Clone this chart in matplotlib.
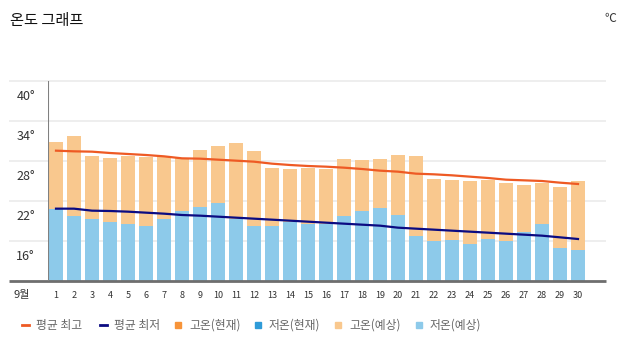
import matplotlib.pyplot as plt
import matplotlib.transforms as mtransforms

plt.rcParams['font.family'] = ['Noto Sans CJK KR', 'DejaVu Sans']

days = list(range(1, 31))
high_fcst = [30.85, 31.75, 28.75, 28.5, 28.75, 28.55, 28.75, 28.4, 29.7, 30.25,
             30.75, 29.55, 27.0, 26.85, 26.95, 26.85, 28.3, 28.15, 28.3, 28.9,
             28.75, 25.3, 25.2, 25.05, 25.15, 24.75, 24.45, 24.75, 24.15, 25.05]
low_fcst = [20.85, 19.8, 19.35, 18.85, 18.6, 18.25, 19.3, 20.55, 21.15, 21.75,
            19.3, 18.3, 18.3, 18.8, 18.5, 18.6, 19.8, 20.5, 21.0, 19.9,
            16.8, 16.0, 16.15, 15.6, 16.3, 16.0, 17.35, 18.6, 15.0, 14.65]
avg_high = [29.55, 29.45, 29.4, 29.2, 29.05, 28.9, 28.7, 28.4, 28.35, 28.2,
            28.05, 27.9, 27.6, 27.4, 27.25, 27.15, 27.0, 26.8, 26.55, 26.4,
            26.1, 26.0, 25.85, 25.65, 25.45, 25.2, 25.1, 25.0, 24.75, 24.55]
avg_low = [20.85, 20.85, 20.55, 20.5, 20.4, 20.25, 20.1, 19.9, 19.8, 19.65,
           19.5, 19.35, 19.2, 19.05, 18.9, 18.75, 18.6, 18.45, 18.3, 18.0,
           17.85, 17.7, 17.55, 17.4, 17.25, 17.1, 16.95, 16.8, 16.55, 16.3]
y_ticks = [16, 22, 28, 34, 40]
legend_labels = ['평균 최고', '평균 최저', '고온(현재)', '저온(현재)', '고온(예상)', '저온(예상)']

C_HIGH_LINE = '#EE5A24'
C_LOW_LINE = '#0B0B82'
C_HIGH_NOW = '#F7943A'
C_LOW_NOW = '#2F9BD8'
C_HIGH_FCST = '#F9C88E'
C_LOW_FCST = '#8DCAEA'

W, H = 627, 354
fig = plt.figure(figsize=(W / 100, H / 100), dpi=100)
ax = fig.add_axes([48 / W, 73 / H, 558 / W, 200 / H])

ax.bar(days, high_fcst, width=0.75, bottom=0, color=C_HIGH_FCST, zorder=2)
ax.bar(days, low_fcst, width=0.75, bottom=0, color=C_LOW_FCST, zorder=3)
ax.plot(days, avg_high, color=C_HIGH_LINE, lw=1.6, zorder=4)
ax.plot(days, avg_low, color=C_LOW_LINE, lw=1.6, zorder=4)

ax.set_xlim(1 - 8 / 18, 31 + 10 / 18)
ax.set_ylim(10, 40)

# gridlines run a bit left of the y axis
trans = ax.get_yaxis_transform()
ax.hlines(y_ticks, -39 / 558, 1, transform=trans, color='#EBEBEB', lw=1.2,
          zorder=1, clip_on=False)
ax.hlines([10], -39 / 558, 1, transform=trans, color='#6E6E6E', lw=2,
          zorder=5, clip_on=False)
ax.axvline(1 - 8 / 18, color='#808080', lw=1.5, zorder=5)

for s in ax.spines.values():
    s.set_visible(False)

# y labels sit a little below their gridlines
ax.set_yticks([])
lab_trans = trans + mtransforms.ScaledTranslation(0, -16 / 100, fig.dpi_scale_trans)
for v in y_ticks:
    ax.text(-13 / 558, v, f'{v}°', transform=lab_trans, fontsize=9,
            color='#333333', ha='right', va='center')

ax.set_xticks(days)
ax.set_xticklabels([str(d) for d in days], fontsize=6.5, color='#333333')
ax.tick_params(axis='x', length=0, pad=7)
ax.text(-39 / 558 + 0.008, -0.07, '9월', transform=ax.transAxes, fontsize=8,
        color='#333333', ha='left', va='center')

fig.text(10 / W, 1 - 20 / H, '온도 그래프', fontsize=11, color='#111111',
         ha='left', va='center')
fig.text(610 / W, 1 - 18 / H, '℃', fontsize=8.5, color='#333333',
         ha='center', va='center')

# legend
ly = 1 - 325 / H
marks = [(22, 'line', C_HIGH_LINE), (100, 'line', C_LOW_LINE),
         (175, 'sq', C_HIGH_NOW), (255, 'sq', C_LOW_NOW),
         (335, 'sq', C_HIGH_FCST), (416, 'sq', C_LOW_FCST)]
for (mx, kind, col), lab in zip(marks, legend_labels):
    if kind == 'line':
        fig.add_artist(plt.Line2D([mx / W, (mx + 7) / W], [ly, ly], color=col,
                                  lw=2, transform=fig.transFigure))
    else:
        fig.add_artist(plt.Rectangle((mx / W, ly - 3 / H), 6 / W, 6 / H,
                                     color=col, transform=fig.transFigure))
    fig.text((mx + 14) / W, ly, lab, fontsize=8.5, color='#666666',
             ha='left', va='center')

fig.savefig('out.png', dpi=100)
